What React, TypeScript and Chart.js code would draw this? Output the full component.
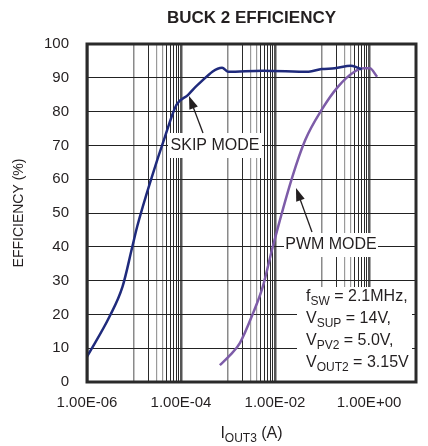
import React, { useEffect, useRef } from 'react';
import { Chart, registerables } from 'chart.js';

Chart.register(...registerables);

// ---- data ----
const skipX = [1e-6, 3.0e-6, 5.7e-6, 9.2e-6, 1.17e-5, 2.4e-5, 4.57e-5, 8.0e-5, 1.4e-4, 2.26e-4, 7.5e-4, 1.0e-3, 5.5e-3, 5.2e-2, 9.8e-2, 0.187, 0.41, 0.57, 0.7];
const skipY = [7.5, 19.3, 28.2, 40.0, 46.0, 60.7, 72.6, 82.0, 84.9, 87.9, 93.0, 91.8, 92.1, 91.8, 92.6, 92.8, 93.6, 93.0, 92.5];

const pwmX = [6.7e-4, 1.12e-3, 1.8e-3, 3.4e-3, 5.5e-3, 8.96e-3, 2.34e-2, 4.4e-2, 9.8e-2, 0.22, 0.49, 0.78, 1.04, 1.49];
const pwmY = [5.0, 8.0, 11.6, 20.3, 28.2, 40.0, 60.7, 71.6, 80.5, 87.4, 91.8, 92.8, 92.8, 90.3];

const xGridValues = [
  1e-6, 1e-5, 2e-5, 3e-5, 4e-5, 5e-5, 6e-5, 7e-5, 8e-5, 9e-5,
  1e-4, 1e-3, 2e-3, 3e-3, 4e-3, 5e-3, 6e-3, 7e-3, 8e-3, 9e-3,
  1e-2, 1e-1, 2e-1, 3e-1, 4e-1, 5e-1, 6e-1, 7e-1, 8e-1, 9e-1,
  1, 10,
];
const xLabelValues = [1e-6, 1e-4, 1e-2, 1];
const xLabelTexts = ['1.00E-06', '1.00E-04', '1.00E-02', '1.00E+00'];
const yTickValues = [0, 10, 20, 30, 40, 50, 60, 70, 80, 90, 100];

const titleText = 'BUCK 2 EFFICIENCY';
const yTitleText = 'EFFICIENCY (%)';
const xTitleParts = [{ t: 'I' }, { t: 'OUT3', sub: true }, { t: ' (A)' }];
const skipLabel = 'SKIP MODE';
const pwmLabel = 'PWM MODE';
const infoLines = [
  [{ t: 'f' }, { t: 'SW', sub: true }, { t: ' = 2.1MHz,' }],
  [{ t: 'V' }, { t: 'SUP', sub: true }, { t: ' = 14V,' }],
  [{ t: 'V' }, { t: 'PV2', sub: true }, { t: ' = 5.0V,' }],
  [{ t: 'V' }, { t: 'OUT2', sub: true }, { t: ' = 3.15V' }],
];

const FONT = "'Liberation Sans', Arial, Helvetica, sans-serif";
const TEXT = '#231f20';

type Part = { t: string; sub?: boolean };

function drawRich(ctx: CanvasRenderingContext2D, parts: Part[], x: number, y: number, size: number, align: 'left' | 'center') {
  const subSize = Math.round(size * 0.75);
  const widths = parts.map((p) => {
    ctx.font = `${p.sub ? subSize : size}px ${FONT}`;
    return ctx.measureText(p.t).width;
  });
  const total = widths.reduce((a, b) => a + b, 0);
  let cx = align === 'center' ? x - total / 2 : x;
  ctx.textAlign = 'left';
  ctx.textBaseline = 'alphabetic';
  parts.forEach((p, i) => {
    ctx.font = `${p.sub ? subSize : size}px ${FONT}`;
    ctx.fillText(p.t, cx, y + (p.sub ? 4 : 0));
    cx += widths[i];
  });
}

function drawArrow(ctx: CanvasRenderingContext2D, x1: number, y1: number, x2: number, y2: number) {
  const ang = Math.atan2(y2 - y1, x2 - x1);
  const len = 13;
  const half = 4.5;
  ctx.save();
  ctx.strokeStyle = TEXT;
  ctx.fillStyle = TEXT;
  ctx.lineWidth = 1.3;
  ctx.beginPath();
  ctx.moveTo(x1, y1);
  ctx.lineTo(x2 - Math.cos(ang) * len * 0.8, y2 - Math.sin(ang) * len * 0.8);
  ctx.stroke();
  ctx.beginPath();
  ctx.moveTo(x2, y2);
  ctx.lineTo(x2 - Math.cos(ang) * len - Math.sin(ang) * half, y2 - Math.sin(ang) * len + Math.cos(ang) * half);
  ctx.lineTo(x2 - Math.cos(ang) * len + Math.sin(ang) * half, y2 - Math.sin(ang) * len - Math.cos(ang) * half);
  ctx.closePath();
  ctx.fill();
  ctx.restore();
}

function gridStyle(v: number) {
  const e = Math.floor(Math.log10(v) + 1e-9);
  const m = Math.round(v / Math.pow(10, e));
  if (m === 1) {
    if (e % 2 === 0) return { color: '#555555', width: 2.5 };
    return { color: '#8a8a8a', width: 1.5 };
  }
  if (m === 3 || m === 4) return { color: '#9a9a9a', width: 1.2 };
  return { color: '#2a2a2a', width: 1 };
}

const overlayPlugin = {
  id: 'overlay',
  afterDatasetsDraw(chart: any) {
    const ctx: CanvasRenderingContext2D = chart.ctx;
    ctx.save();
    ctx.fillStyle = '#ffffff';
    ctx.fillRect(168, 133, 94, 25);
    ctx.fillRect(284, 233, 94, 24);
    ctx.fillRect(297, 287, 115, 94);
    ctx.fillStyle = TEXT;
    ctx.font = `16px ${FONT}`;
    ctx.textAlign = 'center';
    ctx.textBaseline = 'middle';
    ctx.fillText(skipLabel, 215, 146);
    ctx.fillText(pwmLabel, 331, 245);
    infoLines.forEach((line, i) => drawRich(ctx, line, 306, 301 + i * 22, 16, 'left'));
    drawArrow(ctx, 203, 133, 189, 96);
    drawArrow(ctx, 312, 232, 296, 188);
    ctx.restore();
  },
  afterDraw(chart: any) {
    const ctx: CanvasRenderingContext2D = chart.ctx;
    const a = chart.chartArea;
    ctx.save();
    ctx.strokeStyle = '#2a2a2a';
    ctx.lineWidth = 3;
    ctx.strokeRect(a.left, a.top, a.right - a.left, a.bottom - a.top);
    ctx.fillStyle = TEXT;
    ctx.font = `bold 17px ${FONT}`;
    ctx.textAlign = 'center';
    ctx.textBaseline = 'middle';
    ctx.fillText(titleText, (a.left + a.right) / 2, 18);
    ctx.save();
    ctx.translate(19, (a.top + a.bottom) / 2);
    ctx.rotate(-Math.PI / 2);
    ctx.font = `14px ${FONT}`;
    ctx.fillText(yTitleText, 0, 0);
    ctx.restore();
    drawRich(ctx, xTitleParts, (a.left + a.right) / 2, 438, 16, 'center');
    ctx.restore();
  },
};

export default function App() {
  const ref = useRef<HTMLCanvasElement>(null);
  useEffect(() => {
    const canvas = ref.current!;
    const chart = new Chart(canvas, {
      type: 'line',
      data: {
        datasets: [
          {
            label: 'SKIP MODE',
            data: skipX.map((x, i) => ({ x, y: skipY[i] })),
            borderColor: '#1f2a7c',
            borderWidth: 2.5,
            pointRadius: 0,
            cubicInterpolationMode: 'monotone',
            fill: false,
          },
          {
            label: 'PWM MODE',
            data: pwmX.map((x, i) => ({ x, y: pwmY[i] })),
            borderColor: '#7d5ca8',
            borderWidth: 2.5,
            pointRadius: 0,
            cubicInterpolationMode: 'monotone',
            fill: false,
          },
        ],
      },
      options: {
        animation: false,
        responsive: false,
        devicePixelRatio: 1,
        layout: { padding: { left: 0, right: 5, top: 44, bottom: 0 } },
        plugins: { legend: { display: false }, title: { display: false }, tooltip: { enabled: false } },
        scales: {
          x: {
            type: 'logarithmic',
            min: 1e-6,
            max: 10,
            afterBuildTicks: (s: any) => {
              s.ticks = xGridValues.map((v) => ({ value: v }));
            },
            afterFit: (s: any) => {
              s.height = 64;
            },
            border: { display: false },
            grid: {
              drawTicks: false,
              color: (c: any) => gridStyle(c.tick.value).color,
              lineWidth: (c: any) => gridStyle(c.tick.value).width,
            },
            ticks: {
              autoSkip: false,
              maxRotation: 0,
              padding: 12,
              color: TEXT,
              font: { family: FONT, size: 15 },
              callback: (v: any) => {
                const i = xLabelValues.findIndex((lv) => Math.abs(lv - Number(v)) / lv < 1e-6);
                return i >= 0 ? xLabelTexts[i] : '';
              },
            },
          },
          y: {
            type: 'linear',
            min: 0,
            max: 100,
            afterBuildTicks: (s: any) => {
              s.ticks = yTickValues.map((v) => ({ value: v }));
            },
            afterFit: (s: any) => {
              s.width = 87;
            },
            border: { display: false },
            grid: { drawTicks: false, color: '#222222', lineWidth: 1 },
            ticks: {
              padding: 18,
              color: TEXT,
              font: { family: FONT, size: 15 },
            },
          },
        },
      },
      plugins: [overlayPlugin],
    } as any);
    return () => chart.destroy();
  }, []);
  return (
    <div style={{ position: 'absolute', left: 0, top: 0, width: 428, height: 446, background: '#fff' }}>
      <canvas ref={ref} width={428} height={446} style={{ width: 428, height: 446, display: 'block' }} />
    </div>
  );
}
